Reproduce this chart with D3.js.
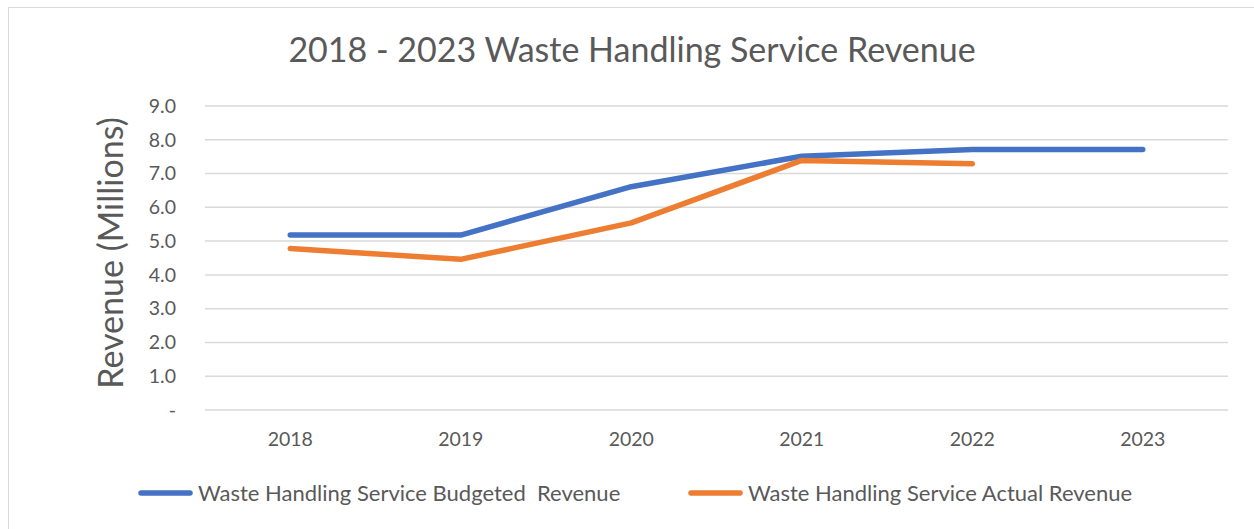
<!DOCTYPE html>
<html>
<head>
<meta charset="utf-8">
<script src="https://cdn.jsdelivr.net/npm/d3@7"></script>
<style>
  body { margin: 0; background: #fff; }
  svg text { font-family: Lato, "Open Sans", sans-serif; fill: #595959; }
</style>
</head>
<body>
<svg id="chart" width="1254" height="529"></svg>
<script>
const years = ['2018', '2019', '2020', '2021', '2022', '2023']
const budgeted = [5.18, 5.18, 6.61, 7.51, 7.71, 7.71]
const actual = [4.78, 4.46, 5.54, 7.39, 7.29]
const yTicks = [0, 1, 2, 3, 4, 5, 6, 7, 8, 9]
const seriesNames = ['Waste Handling Service Budgeted  Revenue', 'Waste Handling Service Actual Revenue']
const seriesColors = ['#4472C4', '#ED7D31']

const margin = { top: 106, right: 26, bottom: 119, left: 205 }
const W = 1254
const H = 529
const width = W - margin.left - margin.right
const height = H - margin.top - margin.bottom

const svg = d3.select('#chart')

// chart area border
svg.append('rect')
  .attr('x', 8.5)
  .attr('y', 7.5)
  .attr('width', W + 20)
  .attr('height', H + 20)
  .style('fill', 'none')
  .style('stroke', '#D9D9D9')
  .style('stroke-width', 1)

svg.append('text')
  .attr('x', 632)
  .attr('y', 62)
  .attr('text-anchor', 'middle')
  .style('font-size', '34px')
  .text('2018 - 2023 Waste Handling Service Revenue')

svg.append('text')
  .attr('transform', 'translate(123, 253) rotate(-90)')
  .attr('text-anchor', 'middle')
  .style('font-size', '34px')
  .text('Revenue (Millions)')

const g = svg.append('g')
  .attr('transform', `translate(${margin.left}, ${margin.top})`)

const xScale = d3.scaleBand()
  .domain(years)
  .range([0, width])

const yScale = d3.scaleLinear()
  .domain([0, 9])
  .range([height, 0])

// gridlines
g.append('g')
  .selectAll('line')
  .data(yTicks)
  .enter().append('line')
  .attr('x1', 0)
  .attr('x2', width)
  .attr('y1', d => yScale(d))
  .attr('y2', d => yScale(d))
  .style('stroke', '#D9D9D9')
  .style('stroke-width', 1.5)

const yAxis = d3.axisLeft(yScale)
  .tickValues(yTicks)
  .tickSize(0)
  .tickPadding(29)
  .tickFormat(d => d === 0 ? '-' : d3.format('.1f')(d))

g.append('g')
  .call(yAxis)
  .call(s => s.select('.domain').remove())
  .selectAll('text')
  .style('font-size', '19.5px')
  .style('fill', '#595959')

const xAxis = d3.axisBottom(xScale)
  .tickSize(0)
  .tickPadding(22)

g.append('g')
  .attr('transform', `translate(0, ${height})`)
  .call(xAxis)
  .call(s => s.select('.domain').remove())
  .selectAll('text')
  .style('font-size', '19.5px')
  .style('fill', '#595959')

const line = d3.line()
  .x((d, i) => xScale(years[i]) + xScale.bandwidth() / 2)
  .y(d => yScale(d))

;[budgeted, actual].forEach((vals, i) => {
  g.append('path')
    .datum(vals)
    .attr('d', line)
    .style('fill', 'none')
    .style('stroke', seriesColors[i])
    .style('stroke-width', 5.5)
    .style('stroke-linecap', 'round')
    .style('stroke-linejoin', 'round')
})

// legend
const legendX = [138, 688]
const legend = svg.append('g')
seriesNames.forEach((name, i) => {
  legend.append('line')
    .attr('x1', legendX[i] + 3)
    .attr('x2', legendX[i] + 52)
    .attr('y1', 493)
    .attr('y2', 493)
    .style('stroke', seriesColors[i])
    .style('stroke-width', 5.5)
    .style('stroke-linecap', 'round')
  legend.append('text')
    .attr('x', legendX[i] + 60)
    .attr('y', 500.5)
    .style('font-size', '22px')
    .style('white-space', 'pre')
    .text(name)
})
</script>
</body>
</html>
